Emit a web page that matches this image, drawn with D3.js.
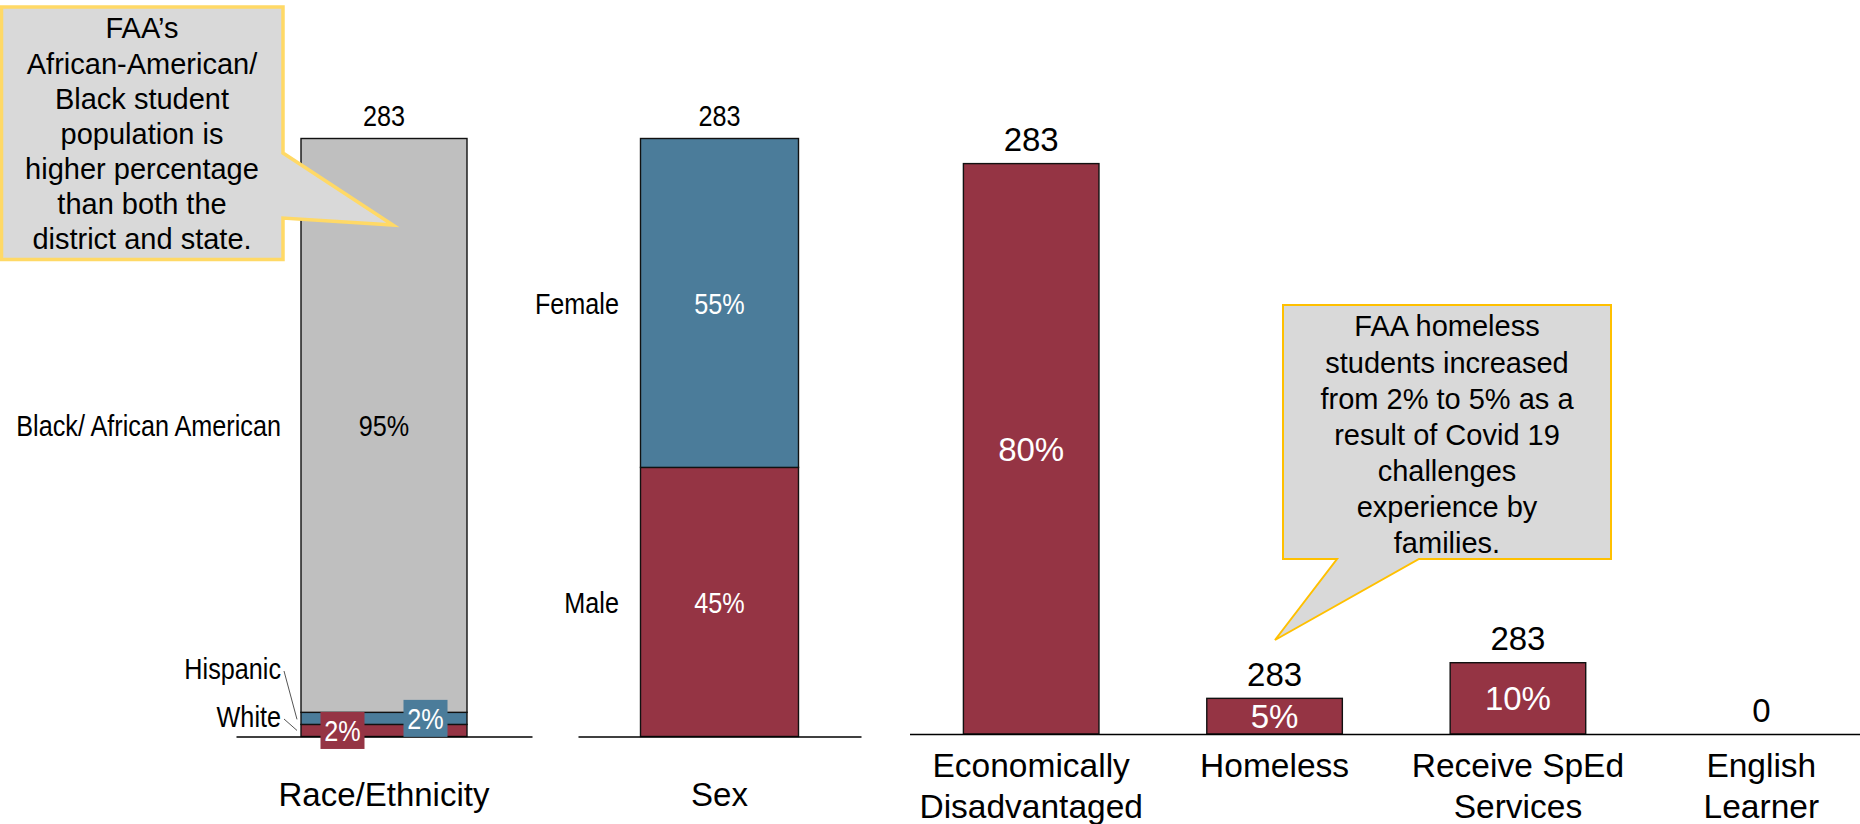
<!DOCTYPE html>
<html>
<head>
<meta charset="utf-8">
<script src="https://cdn.jsdelivr.net/npm/d3@7"></script>
<style>
  html, body { margin: 0; padding: 0; background: #fff; }
  svg { display: block; }
</style>
</head>
<body>
<svg id="chart" width="1860" height="824"></svg>
<script>
// ---- Student profile data ----
const raceCategories = ["White", "Hispanic", "Black/ African American"];
const racePercents = [2, 2, 95];
const raceCount = 283;

const sexCategories = ["Male", "Female"];
const sexPercents = [45, 55];
const sexCount = 283;

const groupCategories = ["Economically Disadvantaged", "Homeless", "Receive SpEd Services", "English Learner"];
const groupPercents = [80, 5, 10, 0];
const groupCounts = [283, 283, 283, 0];

const panelTitles = ["Race/Ethnicity", "Sex"];

const raceNote = ["FAA’s", "African-American/", "Black student", "population is",
                  "higher percentage", "than both the", "district and state."];
const homelessNote = ["FAA homeless", "students increased", "from 2% to 5% as a",
                      "result of Covid 19", "challenges", "experience by", "families."];

// ---- Styling ----
const RED = "#953444", BLUE = "#4b7c9a", GRAY = "#bfbfbf";
const REG = "'Liberation Sans', Arial, sans-serif";
const NARROW_SIZE = "30px";

const svg = d3.select("#chart");

// Condensed text: Liberation Sans squeezed horizontally
function narrow(sel, factor = 0.84) {
  sel.style("font-family", REG).style("font-size", NARROW_SIZE)
    .each(function () {
      const len = this.getComputedTextLength();
      d3.select(this).attr("textLength", len * factor).attr("lengthAdjust", "spacingAndGlyphs");
    });
  return sel;
}

// ---- Stacked 100% columns (race, sex) ----
const yLeft = d3.scaleLinear().domain([0, 1]).range([736.5, 138.5]);

function stackedPanel(opts) {
  const { title, cats, values, count, colors, range, padOuter } = opts;
  const x = d3.scaleBand().domain([title]).range(range).paddingInner(0).paddingOuter(padOuter);
  const row = {};
  cats.forEach((c, i) => row[c] = values[i]);
  const series = d3.stack().keys(cats).offset(d3.stackOffsetExpand)([row]);
  const color = d3.scaleOrdinal().domain(cats).range(colors);
  const g = svg.append("g");

  g.selectAll("rect.seg").data(series).join("rect")
    .attr("class", "seg")
    .attr("x", x(title))
    .attr("width", x.bandwidth())
    .attr("y", d => yLeft(d[0][1]))
    .attr("height", d => yLeft(d[0][0]) - yLeft(d[0][1]))
    .attr("fill", d => color(d.key))
    .attr("stroke", "#111")
    .attr("stroke-width", 1.4);

  // count above column
  g.append("text")
    .attr("x", x(title) + x.bandwidth() / 2)
    .attr("y", yLeft(1) - 12.5)
    .attr("text-anchor", "middle")
    .attr("fill", "#000")
    .text(count)
    .call(narrow);

  // axis with baseline and panel title
  const axis = g.append("g")
    .attr("transform", `translate(0,${yLeft(0)})`)
    .call(d3.axisBottom(x).tickSize(0).tickSizeOuter(0));
  axis.select(".domain").attr("stroke", "#000").attr("stroke-width", 1.5);
  axis.selectAll(".tick text")
    .attr("y", 69).attr("dy", 0)
    .style("font-family", REG).style("font-size", "33px").attr("fill", "#000");

  return { g, x, series, color };
}

// Race / Ethnicity
const race = stackedPanel({
  title: panelTitles[0], cats: raceCategories, values: racePercents, count: raceCount,
  colors: [RED, BLUE, GRAY], range: [236, 532], padOuter: 0.3916
});
{
  const { g, x, series } = race;
  const bx = x(panelTitles[0]), bw = x.bandwidth();
  const mid = s => (yLeft(s[0][0]) + yLeft(s[0][1])) / 2;

  // large segment label
  const black = series[2];
  g.append("text")
    .attr("x", bx + bw / 2).attr("y", mid(black)).attr("dy", "0.36em")
    .attr("text-anchor", "middle").attr("fill", "#000")
    .text(racePercents[2] + "%")
    .call(narrow);
  g.append("text")
    .attr("x", 281).attr("y", mid(black)).attr("dy", "0.36em")
    .attr("text-anchor", "end").attr("fill", "#000")
    .text(raceCategories[2])
    .call(narrow);

  // small segments: boxed value labels
  const boxPos = [0.25, 0.75];
  [0, 1].forEach(i => {
    const s = series[i];
    const cx = bx + bw * boxPos[i], cy = mid(s);
    const t = g.append("text")
      .attr("x", cx).attr("y", cy).attr("dy", "0.36em")
      .attr("text-anchor", "middle").attr("fill", "#fff")
      .text(racePercents[i] + "%")
      .call(narrow);
    const w = 44;
    g.insert("rect", () => t.node())
      .attr("x", cx - w / 2).attr("y", cy - 18.5)
      .attr("width", w).attr("height", 37)
      .attr("fill", i === 0 ? RED : BLUE);
  });

  // series names for the thin segments, with leader lines
  const nameY = [716, 668];
  [0, 1].forEach(i => {
    const s = series[i];
    g.append("text")
      .attr("x", 281).attr("y", nameY[i]).attr("dy", "0.36em")
      .attr("text-anchor", "end").attr("fill", "#000")
      .text(raceCategories[i])
      .call(narrow);
    g.append("line")
      .attr("x1", 284).attr("y1", nameY[i] + 3)
      .attr("x2", bx - 4).attr("y2", mid(s) + (i === 0 ? 0 : 1))
      .attr("stroke", "#555").attr("stroke-width", 1);
  });
}

// Sex
const sex = stackedPanel({
  title: panelTitles[1], cats: sexCategories, values: sexPercents, count: sexCount,
  colors: [RED, BLUE], range: [578, 861], padOuter: 0.3956
});
{
  const { g, x, series } = sex;
  const bx = x(panelTitles[1]), bw = x.bandwidth();
  series.forEach((s, i) => {
    const cy = (yLeft(s[0][0]) + yLeft(s[0][1])) / 2;
    g.append("text")
      .attr("x", bx + bw / 2).attr("y", cy).attr("dy", "0.36em")
      .attr("text-anchor", "middle").attr("fill", "#fff")
      .text(sexPercents[i] + "%")
      .call(narrow);
    g.append("text")
      .attr("x", 619).attr("y", cy).attr("dy", "0.36em")
      .attr("text-anchor", "end").attr("fill", "#000")
      .text(sexCategories[i])
      .call(narrow);
  });
}

// ---- Student groups (simple columns) ----
const xR = d3.scaleBand().domain(groupCategories).range([909.5, 1883])
  .paddingInner(0.443).paddingOuter(0.2215);
const yR = d3.scaleLinear().domain([0, 100]).range([734, 21]);
const groups = groupCategories.map((c, i) => ({ c, p: groupPercents[i], n: groupCounts[i] }));
const gR = svg.append("g");

gR.selectAll("rect.bar").data(groups.filter(d => d.p > 0)).join("rect")
  .attr("class", "bar")
  .attr("x", d => xR(d.c))
  .attr("width", xR.bandwidth())
  .attr("y", d => yR(d.p))
  .attr("height", d => yR(0) - yR(d.p))
  .attr("fill", RED)
  .attr("stroke", "#111").attr("stroke-width", 1.4);

gR.selectAll("text.count").data(groups).join("text")
  .attr("class", "count")
  .attr("x", d => xR(d.c) + xR.bandwidth() / 2)
  .attr("y", d => yR(d.p) - 12.5)
  .attr("text-anchor", "middle")
  .style("font-family", REG).style("font-size", "33px").attr("fill", "#000")
  .text(d => d.n);

gR.selectAll("text.pct").data(groups.filter(d => d.p > 0)).join("text")
  .attr("class", "pct")
  .attr("x", d => xR(d.c) + xR.bandwidth() / 2)
  .attr("y", d => (yR(d.p) + yR(0)) / 2)
  .attr("dy", "0.36em")
  .attr("text-anchor", "middle")
  .style("font-family", REG).style("font-size", "33px").attr("fill", "#fff")
  .text(d => d.p + "%");

const axR = gR.append("g")
  .attr("transform", `translate(0,${yR(0)})`)
  .call(d3.axisBottom(xR).tickSize(0).tickSizeOuter(0));
axR.select(".domain").attr("stroke", "#000").attr("stroke-width", 1.5);
axR.selectAll(".tick text")
  .attr("y", 43).attr("dy", 0)
  .style("font-family", REG).style("font-size", "33.5px").attr("fill", "#000")
  .each(function () {
    // wrap long group names onto two lines
    const text = d3.select(this);
    const words = text.text().split(/\s+/);
    text.text(null);
    let line = [];
    let tspan = text.append("tspan").attr("x", 0).attr("dy", 0);
    words.forEach(w => {
      line.push(w);
      tspan.text(line.join(" "));
      if (tspan.node().getComputedTextLength() > 218 && line.length > 1) {
        line.pop();
        tspan.text(line.join(" "));
        line = [w];
        tspan = text.append("tspan").attr("x", 0).attr("dy", 41).text(w);
      }
    });
  });

// ---- Callouts ----
function callout(pathD, stroke, strokeW, lines, cx, firstY, step) {
  const g = svg.append("g");
  g.append("path").attr("d", pathD)
    .attr("fill", "#d9d9d9").attr("stroke", stroke).attr("stroke-width", strokeW)
    .attr("stroke-linejoin", "miter");
  g.selectAll("text").data(lines).join("text")
    .attr("x", cx).attr("y", (d, i) => firstY + i * step)
    .attr("dy", "0.36em")
    .attr("text-anchor", "middle")
    .style("font-family", REG).style("font-size", "29px").attr("fill", "#000")
    .text(d => d);
}

callout("M1.5,7 H283 V153 L393,225 L283,218 V259.5 H1.5 Z",
        "#ffd966", 3.5, raceNote, 142, 28, 35.1);
callout("M1283,305 H1611 V559 H1419 L1275,640 L1337,559 H1283 Z",
        "#ffc000", 2, homelessNote, 1447, 326, 36.1);
</script>
</body>
</html>
